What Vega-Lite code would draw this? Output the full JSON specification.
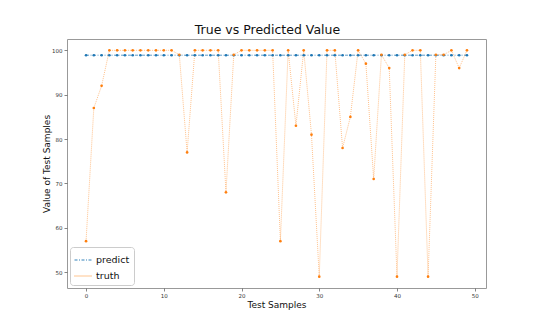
{
  "$schema": "https://vega.github.io/schema/vega-lite/v6.json",
  "width": 419,
  "height": 249,
  "autosize": {"type": "none"},
  "padding": {"left": 67, "top": 39, "right": 54, "bottom": 36},
  "background": "white",
  "config": {
    "font": "DejaVu Sans",
    "view": {"stroke": "#999", "strokeWidth": 1},
    "axis": {"grid": false, "domain": false, "tickColor": "#666", "tickSize": 3, "tickWidth": 0.8, "labelFontSize": 5.5, "labelColor": "#333", "titleFontWeight": "normal", "titleColor": "#111", "titleFontSize": 9},
    "legend": {"orient": "bottom-left", "offset": 3, "symbolType": "stroke", "symbolSize": 289, "symbolStrokeWidth": 1,
               "labelFontSize": 9.5, "labelColor": "#111", "padding": 4, "rowPadding": 2,
               "strokeColor": "#ccc", "fillColor": "white", "cornerRadius": 3}
  },
  "title": {"text": "True vs Predicted Value", "fontSize": 12.5, "fontWeight": "normal", "color": "#111", "anchor": "middle", "offset": 3, "dx": -9},
  "data": {"values": [
    {"i":0,"s":"predict","v":98.9},{"i":1,"s":"predict","v":98.9},{"i":2,"s":"predict","v":98.9},{"i":3,"s":"predict","v":98.9},{"i":4,"s":"predict","v":98.9},
    {"i":5,"s":"predict","v":98.9},{"i":6,"s":"predict","v":98.9},{"i":7,"s":"predict","v":98.9},{"i":8,"s":"predict","v":98.9},{"i":9,"s":"predict","v":98.9},
    {"i":10,"s":"predict","v":98.9},{"i":11,"s":"predict","v":98.9},{"i":12,"s":"predict","v":98.9},{"i":13,"s":"predict","v":98.9},{"i":14,"s":"predict","v":98.9},
    {"i":15,"s":"predict","v":98.9},{"i":16,"s":"predict","v":98.9},{"i":17,"s":"predict","v":98.9},{"i":18,"s":"predict","v":98.9},{"i":19,"s":"predict","v":98.9},
    {"i":20,"s":"predict","v":98.9},{"i":21,"s":"predict","v":98.9},{"i":22,"s":"predict","v":98.9},{"i":23,"s":"predict","v":98.9},{"i":24,"s":"predict","v":98.9},
    {"i":25,"s":"predict","v":98.9},{"i":26,"s":"predict","v":98.9},{"i":27,"s":"predict","v":98.9},{"i":28,"s":"predict","v":98.9},{"i":29,"s":"predict","v":98.9},
    {"i":30,"s":"predict","v":98.9},{"i":31,"s":"predict","v":98.9},{"i":32,"s":"predict","v":98.9},{"i":33,"s":"predict","v":98.9},{"i":34,"s":"predict","v":98.9},
    {"i":35,"s":"predict","v":98.9},{"i":36,"s":"predict","v":98.9},{"i":37,"s":"predict","v":98.9},{"i":38,"s":"predict","v":98.9},{"i":39,"s":"predict","v":98.9},
    {"i":40,"s":"predict","v":98.9},{"i":41,"s":"predict","v":98.9},{"i":42,"s":"predict","v":98.9},{"i":43,"s":"predict","v":98.9},{"i":44,"s":"predict","v":98.9},
    {"i":45,"s":"predict","v":98.9},{"i":46,"s":"predict","v":98.9},{"i":47,"s":"predict","v":98.9},{"i":48,"s":"predict","v":98.9},{"i":49,"s":"predict","v":98.9},
    {"i":0,"s":"truth","v":57},{"i":1,"s":"truth","v":87},{"i":2,"s":"truth","v":92},{"i":3,"s":"truth","v":100},{"i":4,"s":"truth","v":100},
    {"i":5,"s":"truth","v":100},{"i":6,"s":"truth","v":100},{"i":7,"s":"truth","v":100},{"i":8,"s":"truth","v":100},{"i":9,"s":"truth","v":100},
    {"i":10,"s":"truth","v":100},{"i":11,"s":"truth","v":100},{"i":12,"s":"truth","v":99},{"i":13,"s":"truth","v":77},{"i":14,"s":"truth","v":100},
    {"i":15,"s":"truth","v":100},{"i":16,"s":"truth","v":100},{"i":17,"s":"truth","v":100},{"i":18,"s":"truth","v":68},{"i":19,"s":"truth","v":99},
    {"i":20,"s":"truth","v":100},{"i":21,"s":"truth","v":100},{"i":22,"s":"truth","v":100},{"i":23,"s":"truth","v":100},{"i":24,"s":"truth","v":100},
    {"i":25,"s":"truth","v":57},{"i":26,"s":"truth","v":100},{"i":27,"s":"truth","v":83},{"i":28,"s":"truth","v":100},{"i":29,"s":"truth","v":81},
    {"i":30,"s":"truth","v":49},{"i":31,"s":"truth","v":100},{"i":32,"s":"truth","v":100},{"i":33,"s":"truth","v":78},{"i":34,"s":"truth","v":85},
    {"i":35,"s":"truth","v":100},{"i":36,"s":"truth","v":97},{"i":37,"s":"truth","v":71},{"i":38,"s":"truth","v":99},{"i":39,"s":"truth","v":96},
    {"i":40,"s":"truth","v":49},{"i":41,"s":"truth","v":99},{"i":42,"s":"truth","v":100},{"i":43,"s":"truth","v":100},{"i":44,"s":"truth","v":49},
    {"i":45,"s":"truth","v":99},{"i":46,"s":"truth","v":99},{"i":47,"s":"truth","v":100},{"i":48,"s":"truth","v":96},{"i":49,"s":"truth","v":100}
  ]},
  "encoding": {
    "x": {"field": "i", "type": "quantitative", "title": "Test Samples",
          "scale": {"domain": [-2.45, 51.45], "nice": false, "zero": false},
          "axis": {"values": [0, 10, 20, 30, 40, 50], "labelPadding": 2, "titlePadding": 2}},
    "y": {"field": "v", "type": "quantitative", "title": "Value of Test Samples",
          "scale": {"domain": [46.45, 102.55], "nice": false, "zero": false},
          "axis": {"values": [50, 60, 70, 80, 90, 100], "labelPadding": 2, "titleX": -15.5}},
    "color": {"field": "s", "type": "nominal", "title": null,
              "scale": {"domain": ["predict", "truth"], "range": ["#1f77b4", "#ff7f0e"]}}
  },
  "layer": [
    {"mark": {"type": "line", "strokeWidth": 0.8},
     "encoding": {"strokeDash": {"field": "s", "type": "nominal", "title": null,
                  "scale": {"domain": ["predict", "truth"], "range": [[3, 1.5, 1, 1.5], [1, 1]]}},
                  "opacity": {"condition": {"test": "datum.s === 'truth'", "value": 0.6}, "value": 0.9}}},
    {"mark": {"type": "point", "filled": true, "size": 7, "opacity": 1}}
  ]
}
